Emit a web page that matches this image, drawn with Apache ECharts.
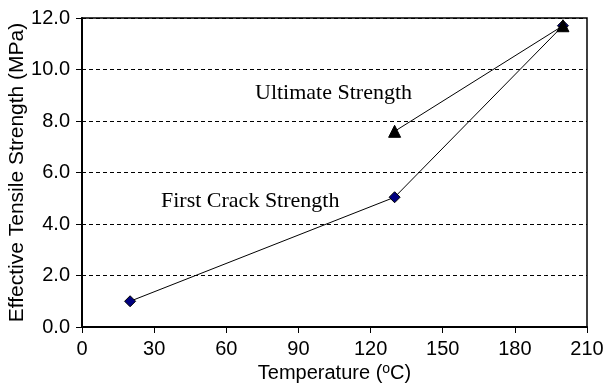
<!DOCTYPE html>
<html><head><meta charset="utf-8">
<script src="https://cdn.jsdelivr.net/npm/echarts@6/dist/echarts.min.js"></script>
<style>html,body{margin:0;padding:0;background:#fff}#c{width:607px;height:386px}</style>
</head><body><div id="c"></div>
<script>
const firstCrackX = [20, 130, 200];
const firstCrackY = [1.0, 5.04, 11.7];
const ultimateX = [130, 200];
const ultimateY = [7.6, 11.7];
const xTicks = [0, 30, 60, 90, 120, 150, 180, 210];
const yTicks = [0, 2, 4, 6, 8, 10, 12];

const chart = echarts.init(document.getElementById('c'));
const sans = 'Liberation Sans, Arial, sans-serif';
const serif = 'Liberation Serif, Times New Roman, serif';
chart.setOption({
  animation: false,
  grid: {left: 82, right: 20, top: 18, bottom: 59, show: true, borderColor: '#000', borderWidth: 1.5,
         containLabel: false, outerBoundsMode: 'none'},
  xAxis: {
    type: 'value', min: 0, max: 210, interval: 30,
    axisLine: {lineStyle: {color: '#000', width: 2}},
    axisTick: {show: true, length: 6, lineStyle: {color: '#000'}},
    axisLabel: {color: '#000', fontFamily: sans, fontSize: 20, margin: 12},
    splitLine: {show: false},
    name: '{a|Temperature (}{sup|o}{a|C)}',
    nameLocation: 'middle', nameGap: 35, nameMoveOverlap: false,
    nameTextStyle: {rich: {
      a: {fontFamily: sans, fontSize: 20, color: '#000'},
      sup: {fontFamily: sans, fontSize: 14, color: '#000', verticalAlign: 'top', padding: [0,0,8,0]}
    }}
  },
  yAxis: {
    type: 'value', min: 0, max: 12, interval: 2,
    axisLine: {show: true, lineStyle: {color: '#000', width: 2}},
    axisTick: {show: true, length: 6, lineStyle: {color: '#000'}},
    axisLabel: {color: '#000', fontFamily: sans, fontSize: 20, margin: 12, formatter: v => v.toFixed(1)},
    splitLine: {show: true, lineStyle: {color: '#000', type: [4, 3], width: 1}},
    name: 'Effective Tensile Strength (MPa)',
    nameLocation: 'middle', nameGap: 54, nameMoveOverlap: false,
    nameTextStyle: {fontFamily: sans, fontSize: 21, color: '#000'}
  },
  series: [
    {
      type: 'line', name: 'First Crack Strength',
      data: firstCrackX.map((x, i) => [x, firstCrackY[i]]),
      symbol: 'diamond', symbolSize: 11,
      lineStyle: {color: '#000', width: 1},
      itemStyle: {color: '#000080', borderColor: '#000', borderWidth: 1},
      z: 2
    },
    {
      type: 'line', name: 'Ultimate Strength',
      data: ultimateX.map((x, i) => [x, ultimateY[i]]),
      symbol: 'triangle', symbolSize: 12,
      lineStyle: {color: '#000', width: 1},
      itemStyle: {color: '#000', borderColor: '#000', borderWidth: 1},
      z: 3
    }
  ],
  graphic: [
    {type: 'text', x: 255, y: 93, style: {text: 'Ultimate Strength', font: '22px ' + serif, fill: '#000', verticalAlign: 'middle'}},
    {type: 'text', x: 161, y: 201, style: {text: 'First Crack Strength', font: '22px ' + serif, fill: '#000', verticalAlign: 'middle'}}
  ]
});
</script></body></html>
